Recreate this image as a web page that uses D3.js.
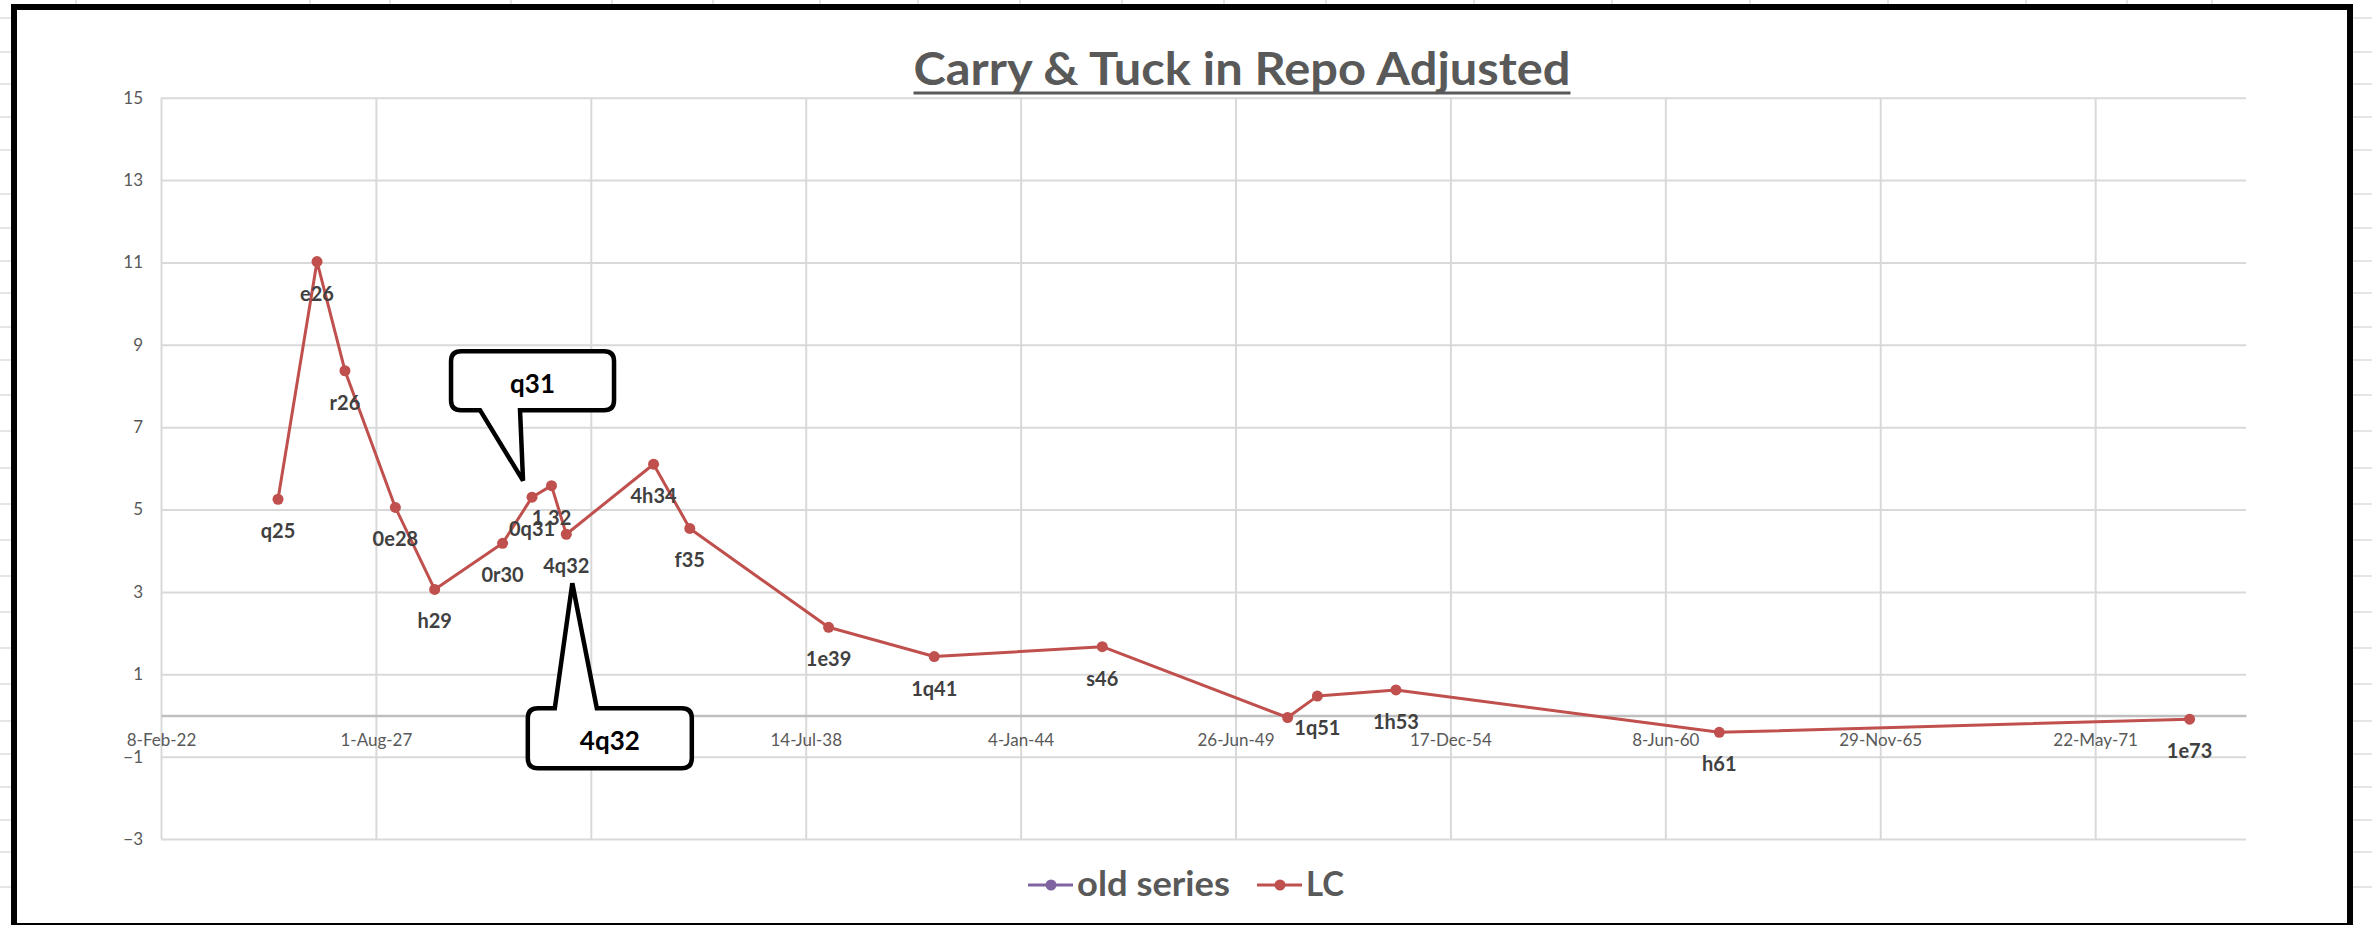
<!DOCTYPE html>
<html>
<head>
<meta charset="utf-8">
<script src="https://cdn.jsdelivr.net/npm/d3@7"></script>
<style>
  html, body { margin: 0; padding: 0; background: #fff; }
  svg { display: block; font-family: Lato, "Open Sans", sans-serif; }
</style>
</head>
<body>
<svg id="chart" width="2372" height="925"></svg>
<script>
// data
var titleText = "Carry & Tuck in Repo Adjusted";
var yTicks = [15, 13, 11, 9, 7, 5, 3, 1, -1, -3];
var xTickDates = ["2022-02-08", "2027-08-01", "2033-01-21", "2038-07-14", "2044-01-04",
                  "2049-06-26", "2054-12-17", "2060-06-08", "2065-11-29", "2071-05-22"];
var xDomain = ["2022-02-08", "2075-03-26"];

var lcDates = ["2025-02-01", "2026-01-30", "2026-10-17", "2028-01-29", "2029-01-29",
               "2030-10-23", "2031-07-24", "2032-01-21", "2032-06-07", "2034-08-28",
               "2035-07-31", "2039-02-12", "2041-10-22", "2046-02-02", "2050-10-24",
               "2051-07-28", "2053-07-28", "2061-10-23", "2073-10-17"];
var lcValues = [5.25, 11.02, 8.37, 5.05, 3.06, 4.18, 5.30, 5.58, 4.40, 6.10,
                4.54, 2.14, 1.43, 1.67, -0.05, 0.47, 0.62, -0.41, -0.09];
var lcLabels = ["q25", "e26", "r26", "0e28", "h29", "0r30", "0q31", "1 32", "4q32", "4h34",
                "f35", "1e39", "1q41", "s46", "", "1q51", "1h53", "h61", "1e73"];
var oldSeries = [];   // only shows up in the legend

// spreadsheet cell lines peeking out around the chart object
var sheetRows = [18, 52, 84, 117, 150, 194, 228, 261, 293, 327, 360, 395, 431, 468, 504,
                 540, 576, 612, 648, 684, 721, 754, 787, 820, 852, 887];
var sheetCols = [76, 310, 390, 511, 612, 713, 820, 918, 1020, 1122, 1224, 1326, 1474,
                 1612, 1750, 1888, 2026, 2127, 2212];

(function() {
    var parse = d3.timeParse("%Y-%m-%d");
    var fmt = d3.timeFormat("%-d-%b-%y");
    var red = "#C0504D", purple = "#8064A2", grid = "#d9d9d9", axisGray = "#595959";

    var svg = d3.select("#chart");
    var pl = 161, pr = 2246, pt = 97.7, pb = 839;

    var x = d3.scaleTime().domain(xDomain.map(parse)).range([pl, pr]);
    var y = d3.scaleLinear().domain([-3, 15]).range([pb, pt]);

    var lc = lcDates.map(function(d, i) {
        return {date: parse(d), value: lcValues[i], label: lcLabels[i]};
    });

    // sheet background
    var sheet = svg.append("g").attr("stroke", "#dcdcdc").attr("stroke-width", 1.5);
    sheetRows.forEach(function(r) {
        sheet.append("line").attr("x1", 0).attr("x2", 12).attr("y1", r).attr("y2", r);
        sheet.append("line").attr("x1", 2353).attr("x2", 2372).attr("y1", r).attr("y2", r);
    });
    sheetCols.forEach(function(c) {
        sheet.append("line").attr("x1", c).attr("x2", c).attr("y1", 0).attr("y2", 6);
    });

    // gridlines
    svg.append("g")
        .attr("transform", "translate(" + pl + ",0)")
        .call(d3.axisLeft(y).tickValues(yTicks).tickSize(-(pr - pl)).tickFormat(""))
        .call(function(g) { g.select(".domain").remove(); })
        .selectAll("line").attr("stroke", grid).attr("stroke-width", 2);

    svg.append("g")
        .attr("transform", "translate(0," + pb + ")")
        .call(d3.axisBottom(x).tickValues(xTickDates.map(parse)).tickSize(-(pb - pt)).tickFormat(""))
        .call(function(g) { g.select(".domain").remove(); })
        .selectAll("line").attr("stroke", grid).attr("stroke-width", 2);

    // y labels
    svg.append("g")
        .attr("transform", "translate(" + pl + ",0)")
        .call(d3.axisLeft(y).tickValues(yTicks).tickSize(0).tickPadding(18).tickFormat(d3.format("d")))
        .call(function(g) { g.select(".domain").remove(); })
        .selectAll("text")
        .attr("fill", axisGray).style("font-size", "17px").style("font-family", "Lato");

    // horizontal axis at zero
    var xAxis = svg.append("g")
        .attr("transform", "translate(0," + y(0) + ")")
        .call(d3.axisBottom(x).tickValues(xTickDates.map(parse)).tickSize(0).tickPadding(18).tickFormat(fmt));
    xAxis.select(".domain").attr("stroke", "#bfbfbf").attr("stroke-width", 2.5);
    xAxis.selectAll("text")
        .attr("fill", axisGray).style("font-size", "17px").style("font-family", "Lato");

    // LC series
    var line = d3.line().x(function(d) { return x(d.date); }).y(function(d) { return y(d.value); });

    svg.append("path")
        .datum(lc)
        .attr("d", line)
        .attr("fill", "none")
        .attr("stroke", red)
        .attr("stroke-width", 3)
        .attr("stroke-linejoin", "round");

    svg.append("g").selectAll("circle")
        .data(lc)
        .join("circle")
        .attr("cx", function(d) { return x(d.date); })
        .attr("cy", function(d) { return y(d.value); })
        .attr("r", 5.5)
        .attr("fill", red);

    svg.append("g").selectAll("text")
        .data(lc.filter(function(d) { return d.label; }))
        .join("text")
        .attr("x", function(d) { return x(d.date); })
        .attr("y", function(d) { return y(d.value) + 31; })
        .attr("text-anchor", "middle")
        .attr("dominant-baseline", "central")
        .attr("fill", "#404040")
        .style("font-size", "20px")
        .style("font-weight", "bold")
        .text(function(d) { return d.label; });

    // callouts, tip hooked onto a data point
    function callout(d, tipDx, tipDy, box, tail, text) {
        var tx = x(d.date) + tipDx, ty = y(d.value) + tipDy;
        var x0 = tx + box[0], x1 = tx + box[1], y0 = ty + box[2], y1 = ty + box[3], r = 10;
        var p = d3.path();
        p.moveTo(x0 + r, y0);
        if (tail.side === "top") {
            p.lineTo(tx + tail.a, y0);
            p.lineTo(tx, ty);
            p.lineTo(tx + tail.b, y0);
        }
        p.lineTo(x1 - r, y0);
        p.quadraticCurveTo(x1, y0, x1, y0 + r);
        p.lineTo(x1, y1 - r);
        p.quadraticCurveTo(x1, y1, x1 - r, y1);
        if (tail.side === "bottom") {
            p.lineTo(tx + tail.b, y1);
            p.lineTo(tx, ty);
            p.lineTo(tx + tail.a, y1);
        }
        p.lineTo(x0 + r, y1);
        p.quadraticCurveTo(x0, y1, x0, y1 - r);
        p.lineTo(x0, y0 + r);
        p.quadraticCurveTo(x0, y0, x0 + r, y0);
        p.closePath();
        svg.append("path")
            .attr("d", p.toString())
            .attr("fill", "#fff")
            .attr("stroke", "#000")
            .attr("stroke-width", 4.5)
            .attr("stroke-linejoin", "miter");
        svg.append("text")
            .attr("x", (x0 + x1) / 2)
            .attr("y", (y0 + y1) / 2 + 2)
            .attr("text-anchor", "middle")
            .attr("dominant-baseline", "central")
            .attr("fill", "#000")
            .style("font-size", "26px")
            .style("font-weight", "bold")
            .text(text);
    }

    callout(lc[6], -9, -16.5, [-72, 91, -129.5, -70.5], {side: "bottom", a: -43, b: -3}, "q31");
    callout(lc[8], 6, 49, [-44.5, 119.5, 125, 185], {side: "top", a: -17.5, b: 24.5}, "4q32");

    // title
    svg.append("text")
        .attr("x", 1242)
        .attr("y", 85)
        .attr("text-anchor", "middle")
        .attr("fill", axisGray)
        .attr("textLength", 657)
        .attr("lengthAdjust", "spacingAndGlyphs")
        .style("font-size", "46px")
        .style("font-weight", "bold")
        .text(titleText);
    svg.append("line")
        .attr("x1", 913.5).attr("x2", 1570.5).attr("y1", 93).attr("y2", 93)
        .attr("stroke", axisGray).attr("stroke-width", 3);

    // legend
    var legend = [
        {name: "old series", color: purple, data: oldSeries, x: 1028, textLen: 153},
        {name: "LC", color: red, data: lc, x: 1257, textLen: 38}
    ];
    var lg = svg.append("g").attr("transform", "translate(0,885)");
    legend.forEach(function(s) {
        lg.append("line").attr("x1", s.x).attr("x2", s.x + 45).attr("y1", 0).attr("y2", 0)
            .attr("stroke", s.color).attr("stroke-width", 3);
        lg.append("circle").attr("cx", s.x + 23).attr("cy", 0).attr("r", 5.5).attr("fill", s.color);
        lg.append("text")
            .attr("x", s.x + 49)
            .attr("y", 11)
            .attr("fill", axisGray)
            .attr("textLength", s.textLen)
            .attr("lengthAdjust", "spacingAndGlyphs")
            .style("font-size", "34px")
            .style("font-weight", "bold")
            .text(s.name);
    });

    // chart object border
    svg.append("rect")
        .attr("x", 14).attr("y", 7).attr("width", 2336).attr("height", 919)
        .attr("fill", "none").attr("stroke", "#000").attr("stroke-width", 6);
})();
</script>
</body>
</html>
